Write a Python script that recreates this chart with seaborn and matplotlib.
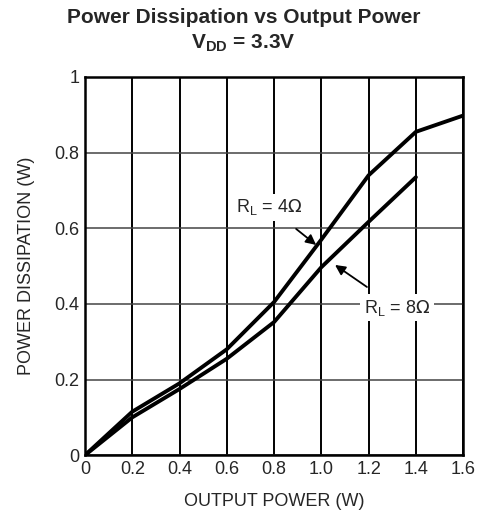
import numpy as np
import pandas as pd
import seaborn as sns
import matplotlib.pyplot as plt

# Values
out_4ohm = [0.0, 0.2, 0.4, 0.6, 0.8, 1.0, 1.2, 1.4, 1.6]
diss_4ohm = [0.0, 0.115, 0.19, 0.28, 0.405, 0.57, 0.74, 0.855, 0.898]
out_8ohm = [0.0, 0.2, 0.4, 0.6, 0.8, 1.0, 1.2, 1.4]
diss_8ohm = [0.0, 0.10, 0.175, 0.255, 0.352, 0.497, 0.617, 0.735]
x_ticks = [0, 0.2, 0.4, 0.6, 0.8, 1.0, 1.2, 1.4, 1.6]
x_tick_labels = ['0', '0.2', '0.4', '0.6', '0.8', '1.0', '1.2', '1.4', '1.6']
y_ticks = [0, 0.2, 0.4, 0.6, 0.8, 1]
y_tick_labels = ['0', '0.2', '0.4', '0.6', '0.8', '1']

df = pd.concat([
    pd.DataFrame({'out': out_4ohm, 'diss': diss_4ohm, 'load': '4'}),
    pd.DataFrame({'out': out_8ohm, 'diss': diss_8ohm, 'load': '8'}),
])

sns.set_style('white')
plt.rcParams['font.family'] = ['Liberation Sans', 'DejaVu Sans']

fig = plt.figure(figsize=(4.87, 5.22), dpi=100)
ax = fig.add_axes([0.1745, 0.128, 0.7765, 0.7245])

ax.set_xticks(x_ticks)
ax.set_yticks(y_ticks)
# vertical grid black, horizontal grid a bit lighter
ax.xaxis.grid(True, color='black', linewidth=1.4)
ax.yaxis.grid(True, color='#444444', linewidth=1.1)
ax.set_axisbelow(True)

sns.lineplot(data=df, x='out', y='diss', hue='load', palette=['black', 'black'],
             linewidth=2.8, legend=False, ax=ax)

ax.set_xlim(0, 1.6)
ax.set_ylim(0, 1)
ax.set_xticklabels(x_tick_labels, fontsize=13)
ax.set_yticklabels(y_tick_labels, fontsize=13)
ax.tick_params(length=0, pad=4)
for s in ax.spines.values():
    s.set_color('black')
    s.set_linewidth(1.8)

ax.set_xlabel('OUTPUT POWER (W)', fontsize=13, labelpad=11)
ax.set_ylabel('POWER DISSIPATION (W)', fontsize=13, labelpad=14)

fig.text(0.5, 0.967, 'Power Dissipation vs Output Power', ha='center', va='center',
         fontsize=15, fontweight='bold')
fig.text(0.5, 0.918, r'V$_\mathregular{DD}$ = 3.3V', ha='center', va='center',
         fontsize=15, fontweight='bold')

label_box = dict(boxstyle='square,pad=0.2', fc='white', ec='none')
ax.annotate(r'R$_\mathregular{L}$ = 4$\Omega$', xy=(0.978, 0.556), xytext=(0.78, 0.655),
            ha='center', va='center', fontsize=13, bbox=label_box,
            arrowprops=dict(arrowstyle='-|>', color='black', lw=1.3, shrinkA=9, shrinkB=0,
                            mutation_scale=15))
ax.annotate(r'R$_\mathregular{L}$ = 8$\Omega$', xy=(1.058, 0.503), xytext=(1.32, 0.39),
            ha='center', va='center', fontsize=13, bbox=label_box,
            arrowprops=dict(arrowstyle='-|>', color='black', lw=1.3, shrinkA=9, shrinkB=0,
                            mutation_scale=15))

fig.savefig('out.png', dpi=100)
